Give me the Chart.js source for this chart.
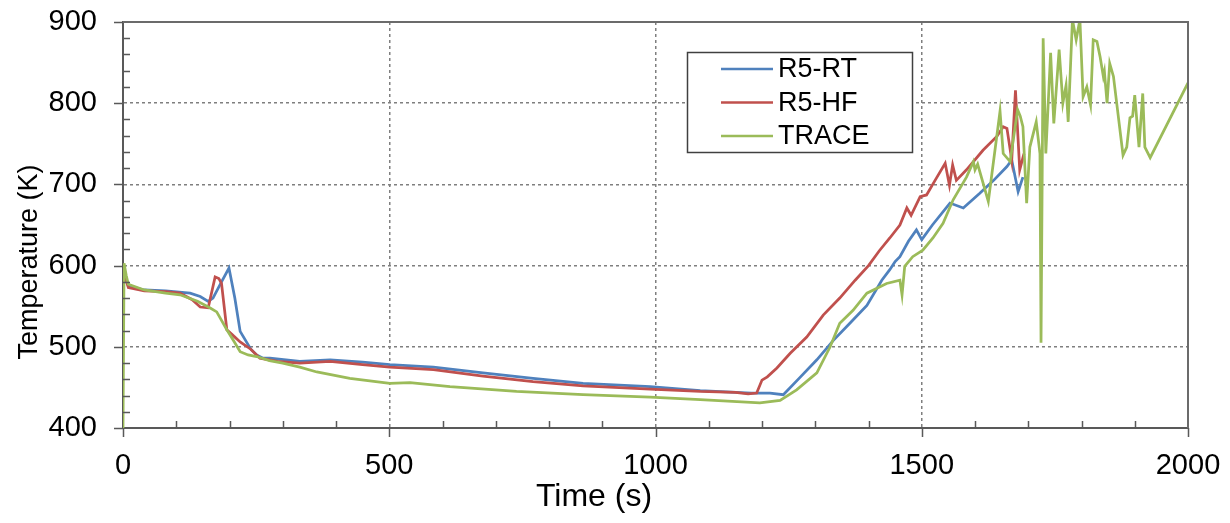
<!DOCTYPE html>
<html>
<head>
<meta charset="utf-8">
<script src="https://cdn.jsdelivr.net/npm/chart.js@4/dist/chart.umd.min.js"></script>
<style>
  html, body { margin: 0; padding: 0; background: #fff; }
  #c { display: block; }
</style>
</head>
<body>
<canvas id="c" width="1230" height="523"></canvas>
<script>
// ---- Data ----
const seriesLabels = ["R5-RT", "R5-HF", "TRACE"];

const rtTime = [0,3,10,40,80,126,145,160,169,185,199,210,220,240,251,263,276,332,389,450,501,583,676,770,864,990,1084,1180,1215,1240,1271,1303,1334,1365,1397,1425,1440,1450,1459,1475,1490,1500,1520,1553,1578,1609,1635,1660,1669,1681,1690];
const rtTemp = [600,590,575,570,569,566,562,556,560,580,597,560,519,497,490,486,486,482,484,481,478,475,468,461,455,451,446,443,443,441,462,484,508,529,551,582,595,605,611,630,644,632,650,677,671,689,705,722,730,691,709];

const hfTime = [0,3,10,40,80,107,130,145,160,173,180,185,195,205,220,240,257,290,332,389,450,501,583,676,770,864,990,1084,1150,1174,1190,1200,1210,1228,1253,1284,1315,1346,1375,1400,1420,1440,1459,1472,1480,1497,1509,1525,1544,1552,1558,1565,1584,1615,1641,1653,1660,1669,1676,1684,1692];
const hfTemp = [600,588,573,569,568,566,558,549,548,586,584,578,521,515,506,497,486,482,480,482,478,475,472,464,457,452,448,445,444,442,443,459,463,474,492,512,539,560,582,600,618,634,650,671,662,685,687,705,726,699,724,705,718,742,759,771,769,730,816,718,738];

const traceTime = [0,2,6,10,40,80,107,140,163,176,195,210,220,235,251,275,300,332,364,426,501,539,614,739,864,990,1084,1196,1234,1265,1303,1328,1346,1371,1397,1434,1459,1463,1468,1483,1502,1521,1540,1559,1584,1597,1600,1605,1625,1647,1653,1666,1680,1685,1690,1697,1703,1715,1722,1724,1728,1733,1742,1748,1758,1765,1771,1775,1783,1790,1797,1803,1810,1817,1822,1829,1835,1841,1843,1848,1853,1860,1878,1885,1891,1896,1900,1908,1915,1919,1929,2000];
const traceTemp = [400,603,588,577,570,566,564,556,548,543,521,505,494,490,488,483,480,475,469,461,455,456,451,445,441,438,435,431,434,447,468,500,529,545,566,578,582,564,599,611,619,634,652,681,709,728,718,725,679,790,738,728,792,784,771,677,746,777,738,505,880,738,862,775,866,800,822,777,903,878,903,808,820,798,878,876,857,833,839,800,849,833,736,746,782,784,810,746,812,746,733,825];

const xTickLabels = ["0", "500", "1000", "1500", "2000"];
const yTickLabels = ["400", "500", "600", "700", "800", "900"];
const xTitle = "Time (s)";
const yTitle = "Temperature (K)";

const colors = ["#4F81BD", "#C0504D", "#9BBB59"];

function pts(t, v) { return t.map((x, i) => ({ x: x, y: v[i] })); }

const FONT = "'Liberation Sans', Arial, sans-serif";
const AXIS_COLOR = "#595959";

function zeroPad(s) { s.paddingTop = 0; s.paddingBottom = 0; s.paddingLeft = 0; s.paddingRight = 0; }

// custom plugin: border box, tick marks, titles, legend
const decor = {
  id: "decor",
  afterDraw(chart) {
    const ctx = chart.ctx;
    const a = chart.chartArea;
    const xs = chart.scales.x, ys = chart.scales.y;
    ctx.save();
    // top & right border
    ctx.strokeStyle = "#6b6b6b";
    ctx.lineWidth = 2;
    ctx.beginPath();
    ctx.moveTo(a.left, a.top);
    ctx.lineTo(a.right, a.top);
    ctx.lineTo(a.right, a.bottom);
    ctx.stroke();

    // tick marks
    ctx.strokeStyle = AXIS_COLOR;
    ctx.lineWidth = 1.5;
    ctx.beginPath();
    for (let v = 0; v <= 2000; v += 100) {
      const px = Math.round(xs.getPixelForValue(v)) + 0.5;
      if (v % 500 === 0) { ctx.moveTo(px, a.bottom); ctx.lineTo(px, a.bottom + 9); }
      else { ctx.moveTo(px, a.bottom); ctx.lineTo(px, a.bottom - 7); }
    }
    for (let v = 400; v <= 900; v += 20) {
      const py = Math.round(ys.getPixelForValue(v)) + 0.5;
      if (v % 100 === 0) { ctx.moveTo(a.left - 9, py); ctx.lineTo(a.left, py); }
      else { ctx.moveTo(a.left, py); ctx.lineTo(a.left + 7, py); }
    }
    ctx.stroke();

    // axis titles
    ctx.fillStyle = "#000";
    ctx.font = "32px " + FONT;
    ctx.textAlign = "center";
    ctx.textBaseline = "middle";
    ctx.fillText(xTitle, 594, 497);
    ctx.save();
    ctx.font = "27px " + FONT;
    ctx.translate(30, 262);
    ctx.rotate(-Math.PI / 2);
    ctx.fillText(yTitle, 0, 0);
    ctx.restore();

    // legend
    const lx = 687, ly = 52, lw = 225, lh = 100;
    ctx.fillStyle = "#fff";
    ctx.fillRect(lx, ly, lw, lh);
    ctx.strokeStyle = "#404040";
    ctx.lineWidth = 1.5;
    ctx.strokeRect(lx + 0.5, ly + 0.5, lw, lh);
    ctx.font = "27px " + FONT;
    ctx.textAlign = "left";
    ctx.textBaseline = "middle";
    chart.data.datasets.forEach((ds, i) => {
      const y = 69 + i * 33.5;
      ctx.strokeStyle = ds.borderColor;
      ctx.lineWidth = 2.5;
      ctx.beginPath();
      ctx.moveTo(721, y);
      ctx.lineTo(773, y);
      ctx.stroke();
      ctx.fillStyle = "#000";
      ctx.fillText(ds.label, 778, y + 1);
    });
    ctx.restore();
  }
};

new Chart(document.getElementById("c"), {
  type: "line",
  data: {
    datasets: [
      { label: seriesLabels[0], data: pts(rtTime, rtTemp), borderColor: colors[0], order: 3 },
      { label: seriesLabels[1], data: pts(hfTime, hfTemp), borderColor: colors[1], order: 2 },
      { label: seriesLabels[2], data: pts(traceTime, traceTemp), borderColor: colors[2], order: 1 }
    ]
  },
  options: {
    responsive: false,
    animation: false,
    devicePixelRatio: 1,
    layout: { padding: { left: 0, right: 42, top: 22, bottom: 0 } },
    elements: {
      point: { radius: 0 },
      line: { borderWidth: 2.75, tension: 0, fill: false }
    },
    plugins: { legend: { display: false }, tooltip: { enabled: false } },
    scales: {
      x: {
        type: "linear", min: 0, max: 2000,
        afterFit(s) { s.height = 95; zeroPad(s); },
        ticks: {
          stepSize: 500, padding: 21, color: "#000",
          font: { family: FONT, size: 29 },
          maxRotation: 0,
          callback: (v) => xTickLabels[v / 500]
        },
        grid: {
          drawTicks: false,
          lineWidth: 1.5,
          color: (c) => (c.tick && (c.tick.value === 0 || c.tick.value === 2000)) ? "rgba(0,0,0,0)" : "#7f7f7f"
        },
        border: { display: true, color: AXIS_COLOR, width: 2, dash: [3, 3] }
      },
      y: {
        type: "linear", min: 400, max: 900,
        afterFit(s) { s.width = 123; zeroPad(s); },
        ticks: {
          stepSize: 100, padding: 26, color: "#000",
          font: { family: FONT, size: 29 },
          callback: (v) => yTickLabels[(v - 400) / 100]
        },
        grid: {
          drawTicks: false,
          lineWidth: 1.5,
          color: (c) => (c.tick && (c.tick.value === 400 || c.tick.value === 900)) ? "rgba(0,0,0,0)" : "#7f7f7f"
        },
        border: { display: true, color: AXIS_COLOR, width: 2, dash: [3, 3] }
      }
    }
  },
  plugins: [decor]
});
</script>
</body>
</html>
